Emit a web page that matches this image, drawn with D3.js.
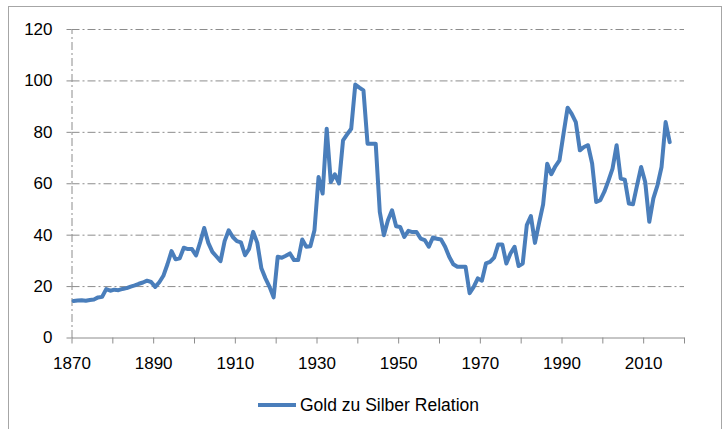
<!DOCTYPE html>
<html>
<head>
<meta charset="utf-8">
<script src="https://cdn.jsdelivr.net/npm/d3@7"></script>
<style>
  body { margin: 0; background: #fff; }
  text { font-family: "Liberation Sans", Arial, sans-serif; fill: #000; }
</style>
</head>
<body>
<svg id="chart" width="725" height="429"></svg>
<script>
// gold to silver price ratio, one value per year starting at firstYear
const firstYear = 1870;
const ratio = [
  14.2, 14.4, 14.5, 14.3, 14.6, 14.8, 15.6, 15.8, 18.8, 18.2,
  18.6, 18.4, 18.9, 19.2, 19.8, 20.3, 20.9, 21.4, 22.1, 21.6,
  19.7, 21.5, 24.0, 28.5, 33.6, 30.4, 30.8, 34.9, 34.4, 34.4,
  31.9, 37.0, 42.6, 36.8, 33.3, 31.5, 29.7, 37.5, 41.7, 39.1,
  37.5, 37.0, 32.0, 34.5, 41.1, 36.8, 26.9, 23.0, 19.7, 15.6,
  31.4, 31.0, 31.8, 32.7, 30.1, 30.1, 38.1, 35.3, 35.5, 41.7,
  62.4, 56.0, 81.2, 60.5, 63.5, 59.9, 76.7, 79.0, 81.2, 98.4,
  97.2, 96.1, 75.4, 75.4, 75.4, 48.9, 39.8, 45.6, 49.5, 43.3,
  43.0, 39.1, 41.5, 41.0, 41.0, 38.5, 37.9, 35.3, 38.9, 38.4,
  38.1, 35.3, 31.4, 28.5, 27.5, 27.5, 27.5, 17.2, 19.7, 23.0,
  22.1, 28.8, 29.4, 31.1, 36.2, 36.2, 28.8, 32.7, 35.3, 27.8,
  28.8, 43.7, 47.2, 36.8, 44.5, 51.8, 67.6, 63.5, 66.6, 68.9,
  79.3, 89.4, 87.0, 83.8, 72.8, 74.1, 74.8, 67.7, 52.7, 53.4,
  56.7, 61.0, 65.7, 74.8, 61.8, 61.4, 52.1, 51.8, 59.2, 66.3,
  60.5, 45.0, 54.1, 59.2, 66.3, 83.8, 76.0
];
const seriesName = "Gold zu Silber Relation";

const yearTicks = [1870, 1880, 1890, 1900, 1910, 1920, 1930, 1940,
  1950, 1960, 1970, 1980, 1990, 2000, 2010, 2020];
const yearLabels = [1870, 1890, 1910, 1930, 1950, 1970, 1990, 2010];
const valueTicks = [0, 20, 40, 60, 80, 100, 120];

const lineColor = "#4a7ebb";
const axisColor = "#8c8c8c";
const dashDot = "8,3,2,3";

const svg = d3.select("#chart");

// chart area frame
svg.append("rect")
  .attr("x", 8.5)
  .attr("y", 6.5)
  .attr("width", 713)
  .attr("height", 440)
  .attr("fill", "#fff")
  .attr("stroke", "#a6a6a6");

const x = d3.scaleLinear().domain([1870, 2020]).range([71.5, 684]);
const y = d3.scaleLinear().domain([0, 120]).range([337.5, 29]);
const plotWidth = x.range()[1] - x.range()[0];

// excel puts each year in the middle of its slot
const catOffset = 0.5;

// horizontal grid
svg.append("g")
  .attr("transform", `translate(${x.range()[0]},0)`)
  .call(
    d3
      .axisLeft(y)
      .tickValues(valueTicks.filter((v) => v > 0))
      .tickSize(-plotWidth)
      .tickFormat("")
  )
  .call((g) => g.select(".domain").remove())
  .call((g) =>
    g.selectAll("line")
      .attr("stroke", axisColor)
      .attr("stroke-dasharray", dashDot)
  );

// y axis
svg.append("g")
  .attr("transform", `translate(${x.range()[0]},0)`)
  .call(
    d3
      .axisLeft(y)
      .tickValues(valueTicks)
      .tickSize(5)
      .tickSizeOuter(0)
      .tickPadding(14)
      .tickFormat((d) => String(d))
  )
  .call((g) =>
    g.select(".domain")
      .attr("stroke", axisColor)
      .attr("stroke-dasharray", dashDot)
  )
  .call((g) => g.selectAll(".tick line").attr("stroke", axisColor))
  .call((g) =>
    g.selectAll("text")
      .attr("font-size", 17)
      .attr("font-family", null)
      .attr("fill", "#000")
  );

// x axis
svg.append("g")
  .attr("transform", `translate(0,${y(0)})`)
  .call(
    d3
      .axisBottom(x)
      .tickValues(yearTicks)
      .tickSize(6)
      .tickSizeOuter(0)
      .tickPadding(13)
      .tickFormat((d) => (yearLabels.includes(d) ? String(d) : ""))
  )
  .call((g) => g.select(".domain").attr("stroke", axisColor))
  .call((g) => g.selectAll(".tick line").attr("stroke", axisColor))
  .call((g) =>
    g.selectAll("text")
      .attr("font-size", 17)
      .attr("font-family", null)
      .attr("fill", "#000")
  );

// series
const line = d3
  .line()
  .x((d, i) => x(firstYear + i + catOffset))
  .y((d) => y(d));

svg.append("path")
  .datum(ratio)
  .attr("d", line)
  .attr("fill", "none")
  .attr("stroke", lineColor)
  .attr("stroke-width", 4)
  .attr("stroke-linejoin", "round")
  .attr("stroke-linecap", "round");

// legend
const legend = svg.append("g").attr("transform", "translate(258,405)");
legend.append("line")
  .attr("x1", 0)
  .attr("x2", 38)
  .attr("stroke", lineColor)
  .attr("stroke-width", 4);
legend.append("text")
  .attr("x", 42)
  .attr("y", 6)
  .attr("font-size", 17.5)
  .text(seriesName);
</script>
</body>
</html>
